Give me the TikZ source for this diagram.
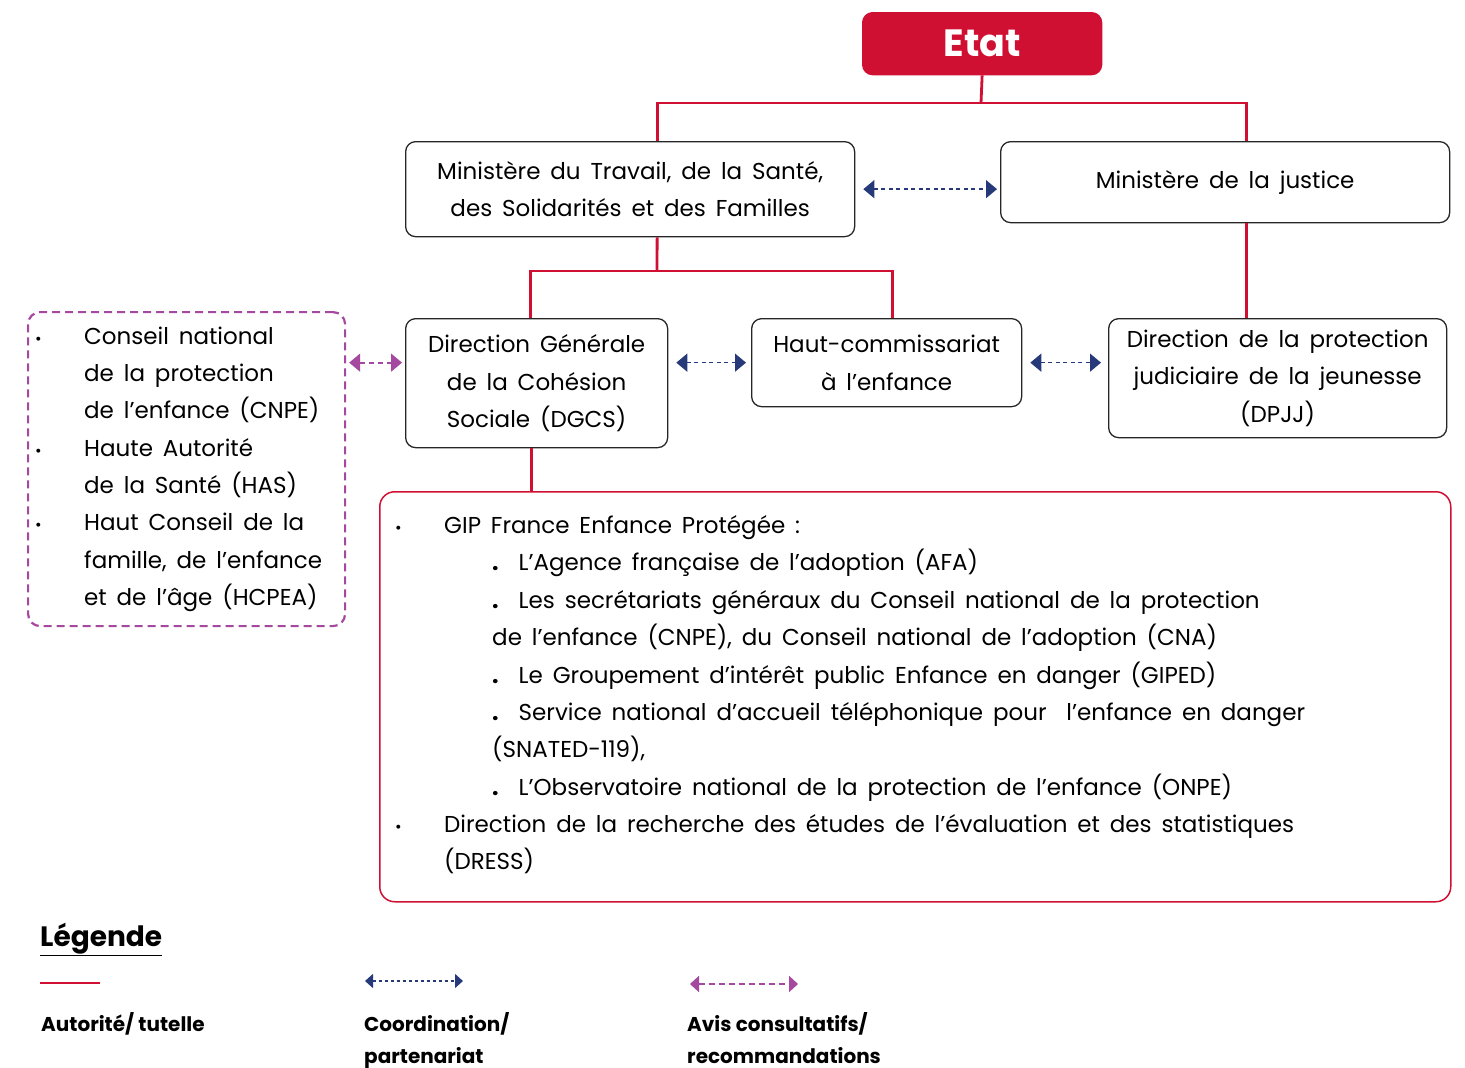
\documentclass[tikz,border=0pt]{standalone}
\usepackage{fontspec}
\setmainfont{Poppins}
\usetikzlibrary{arrows.meta}
\definecolor{rouge}{RGB}{208,16,50}
\definecolor{bleu}{RGB}{38,58,122}
\definecolor{avisc}{RGB}{165,72,160}
\newcommand\txtsz{\fontsize{23}{37.5}\selectfont\spaceskip=0.43em plus 0.1em minus 0.05em\relax}
\begin{document}
\begin{tikzpicture}[x=1pt,y=-1pt,
 box/.style={draw=black!85, line width=1.3pt, rounded corners=10pt, align=center, inner sep=0pt, font=\txtsz, anchor=north west},
 tut/.style={draw=rouge, line width=2.8pt},
 coord/.style={draw=bleu, line width=1.4pt, dash pattern=on 4pt off 3.5pt, {Triangle[length=11pt,width=18pt]}-{Triangle[length=11pt,width=18pt]}},
 avis/.style={draw=avisc, line width=1.8pt, dash pattern=on 5pt off 4pt, {Triangle[length=11pt,width=18pt]}-{Triangle[length=11pt,width=18pt]}},
 ln/.style={anchor=base west, inner sep=0pt, font=\txtsz},
 bul/.style={anchor=base west, inner sep=0pt, font=\fontsize{16}{16}\selectfont},
 leg/.style={anchor=base west, inner sep=0pt, font=\bfseries\fontsize{20}{20}\selectfont},
]
\useasboundingbox (0,0) rectangle (1465,1068);

% boxes
\node[box, fill=rouge, draw=rouge, minimum width=239pt, minimum height=62pt, text=white, font=\fontsize{38}{38}\selectfont\bfseries] (etat) at (862,12) {Etat};
\node[box, minimum width=449pt, minimum height=95pt] (mt) at (405,141) {Ministère du Travail, de la Santé,\\des Solidarités et des Familles};
\node[box, minimum width=449pt, minimum height=81pt] (mj) at (1000,141) {Ministère de la justice};
\node[box, minimum width=262pt, minimum height=129pt] (dg) at (405,318) {Direction Générale\\de la Cohésion\\Sociale (DGCS)};
\node[box, minimum width=270pt, minimum height=88pt] (hc) at (751,318) {Haut-commissariat\\à l’enfance};
\node[box, minimum width=338pt, minimum height=119pt] (dp) at (1108,318) {Direction de la protection\\judiciaire de la jeunesse\\(DPJJ)};
\node[draw=avisc, line width=2.2pt, dash pattern=on 8pt off 5pt, rounded corners=12pt, minimum width=317pt, minimum height=314pt, anchor=north west, inner sep=0pt] (cn) at (27,311) {};
\node[draw=rouge, line width=1.5pt, rounded corners=15pt, minimum width=1071pt, minimum height=410pt, anchor=north west, inner sep=0pt] (big) at (379,491) {};

% authority lines
\coordinate (j1) at (981,103);
\coordinate (j2) at (657,271);
\draw[tut] (etat.south) -- (j1);
\draw[tut] ([xshift=27]mt.north) |- (j1) -| ([xshift=21]mj.north);
\draw[tut] ([xshift=27]mt.south) -- (j2);
\draw[tut] ([xshift=-6]dg.north) |- (j2) -| ([xshift=6]hc.north);
\draw[tut] ([xshift=21]mj.south) -- ([xshift=21]mj.south |- dp.north);
\draw[tut] ([xshift=-5]dg.south) -- ([xshift=-5]dg.south |- big.north);

% coordination arrows
\draw[coord] ([xshift=8]mt.east) -- ([xshift=-3]mj.west |- mt.east);
\draw[coord] ([xshift=8]dg.east |- hc.west) -- ([xshift=-5]hc.west);
\draw[coord] ([xshift=8]hc.east) -- ([xshift=-7]dp.west |- hc.east);
\draw[avis] ([xshift=3]cn.east |- hc.west) -- ([xshift=-3]dg.west |- hc.west);

% purple box text
\node[bul] (cb1) at (35,344) {•};
\node[bul] (cb2) at (35,456) {•};
\node[bul] (cb3) at (35,530) {•};
\node[ln] (c1) at (84,344) {Conseil national};
\node[ln] (c2) at (84,381) {de la protection};
\node[ln] (c3) at (84,418) {de l’enfance (CNPE)};
\node[ln] (c4) at (84,456) {Haute Autorité};
\node[ln] (c5) at (84,493) {de la Santé (HAS)};
\node[ln] (c6) at (84,530) {Haut Conseil de la};
\node[ln] (c7) at (84,568) {famille, de l’enfance};
\node[ln] (c8) at (84,605) {et de l’âge (HCPEA)};

% big box text
\node[bul] (bb1) at (395,533) {•};
\node[bul] (bb2) at (395,832) {•};
\node[ln] (g1) at (444,533) {GIP France Enfance Protégée :};
\node[ln] (g2) at (492,570) {\textbf{.}\hspace{20pt}L’Agence française de l’adoption (AFA)};
\node[ln] (g3) at (492,608) {\textbf{.}\hspace{20pt}Les secrétariats généraux du Conseil national de la protection};
\node[ln] (g4) at (492,645) {de l’enfance (CNPE), du Conseil national de l’adoption (CNA)};
\node[ln] (g5) at (492,683) {\textbf{.}\hspace{20pt}Le Groupement d’intérêt public Enfance en danger (GIPED)};
\node[ln] (g6) at (492,720) {\textbf{.}\hspace{20pt}Service national d’accueil téléphonique pour\ \ l’enfance en danger};
\node[ln] (g7) at (492,757) {(SNATED-119),};
\node[ln] (g8) at (492,795) {\textbf{.}\hspace{20pt}L’Observatoire national de la protection de l’enfance (ONPE)};
\node[ln] (g9) at (444,832) {Direction de la recherche des études de l’évaluation et des statistiques};
\node[ln] (g10) at (444,869) {(DRESS)};

% legend
\node[anchor=base west, inner sep=0pt, font=\bfseries\fontsize{28}{28}\selectfont] (lt) at (40,946) {\underline{Légende}};
\coordinate (la1) at (40,983);
\coordinate (la2) at (100,983);
\draw[tut] (la1) -- (la2);
\coordinate (lb1) at (365,981);
\coordinate (lb2) at (463,981);
\draw[draw=bleu, line width=1.2pt, dash pattern=on 3pt off 3pt, {Triangle[length=8pt,width=14pt]}-{Triangle[length=8pt,width=14pt]}] (lb1) -- (lb2);
\coordinate (lc1) at (690,984);
\coordinate (lc2) at (798,984);
\draw[draw=avisc, line width=2pt, dash pattern=on 6pt off 4pt, {Triangle[length=9pt,width=16pt]}-{Triangle[length=9pt,width=16pt]}] (lc1) -- (lc2);
\node[leg] (l1) at (41,1031) {Autorité/ tutelle};
\node[leg] (l2) at (364,1031) {Coordination/};
\node[leg] (l3) at (364,1063) {partenariat};
\node[leg] (l4) at (687,1031) {Avis consultatifs/};
\node[leg] (l5) at (687,1063) {recommandations};
\end{tikzpicture}
\end{document}
